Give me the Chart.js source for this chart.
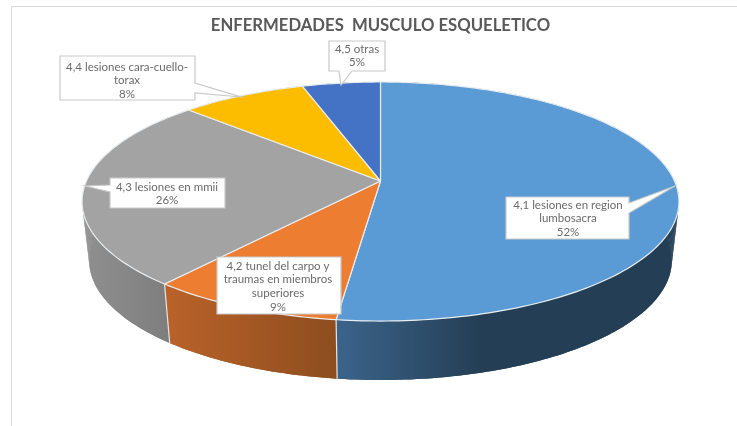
<!DOCTYPE html>
<html>
<head>
<meta charset="utf-8">
<title>Enfermedades musculo esqueletico</title>
<script src="https://cdn.jsdelivr.net/npm/chart.js@4"></script>
<style>
    html, body { margin: 0; padding: 0; background: #fff; overflow: hidden; }
    #grafico { display: block; }
</style>
</head>
<body>
<canvas id="grafico" width="737" height="426"></canvas>
<script>
const titulo = "ENFERMEDADES  MUSCULO ESQUELETICO";
const categorias = [
    "4,1 lesiones en region lumbosacra",
    "4,2 tunel del carpo y traumas en miembros superiores",
    "4,3 lesiones en mmii",
    "4,4 lesiones cara-cuello-torax",
    "4,5 otras"
];
const valores = [52, 9, 26, 8, 5];
const lineasEtiqueta = [
    ["4,1 lesiones en region", "lumbosacra"],
    ["4,2 tunel del carpo y", "traumas en miembros", "superiores"],
    ["4,3 lesiones en mmii"],
    ["4,4 lesiones cara-cuello-", "torax"],
    ["4,5 otras"]
];
const colores = ["#5b9bd5", "#ed7d31", "#a3a3a3", "#fcbd00", "#4472c4"];

// lateral del pastel, degradado de izquierda a derecha
const ladoInicio = ["#3b6389", "#ba622a", "#8f8f8f", "#997300", "#2f5597"];
const ladoFin = ["#243f55", "#8c4d1e", "#7e7e7e", "#997300", "#2f5597"];

// proyeccion en perspectiva del disco: borde superior y borde inferior
const tapa = { a: 294, b: 116, k: 0.1716, cy: 181 };
const base = { a: 287, b: 116, k: 0.1716, cy: 240 };

// cuadros de las etiquetas: x, y, ancho, alto, punta del globo y centro del texto
const globos = [
    { x: 506, y: 197, w: 123, h: 42, base: [[629, 203], [629, 213]], punta: [675, 186], tx: 568, ty: 205 },
    { x: 217, y: 257, w: 124, h: 57, base: null, punta: null, tx: 278, ty: 266 },
    { x: 110, y: 178, w: 115, h: 30, base: [[110, 185], [110, 192]], punta: [85, 186], tx: 167, ty: 187 },
    { x: 60, y: 56, w: 135, h: 44, base: [[195, 83], [195, 93]], punta: [241, 97], tx: 127, ty: 67 },
    { x: 329, y: 41, w: 56, h: 30, base: [[339, 71], [352, 71]], punta: [341, 85], tx: 357, ty: 49 }
];
const altoLinea = 13.6;

function proyectar(p, cx, ang) {
    const u = Math.cos(ang);
    const v = -Math.sin(ang);
    const w = 1 + p.k * v;
    return [cx + p.a * u / w, p.cy - p.b * v / w];
}

function trazarPoligono(ctx, puntos) {
    ctx.beginPath();
    puntos.forEach(function (pt, i) {
        if (i == 0) ctx.moveTo(pt[0], pt[1]);
        else ctx.lineTo(pt[0], pt[1]);
    });
    ctx.closePath();
}

const pastel3d = {
    id: "pastel3d",
    beforeDatasetsDraw(chart) {
        const ctx = chart.ctx;
        const arcos = chart.getDatasetMeta(0).data;
        const paso = Math.PI / 180;
        ctx.save();

        // primero el lateral
        arcos.forEach(function (arco, i) {
            const grad = ctx.createLinearGradient(
                i == 0 ? 340 : (i == 1 ? 168 : 85), 0,
                i == 0 ? 480 : (i == 1 ? 338 : 168), 0);
            grad.addColorStop(0, ladoInicio[i]);
            grad.addColorStop(1, ladoFin[i]);
            ctx.fillStyle = grad;
            ctx.strokeStyle = grad;
            ctx.lineWidth = 0.8;

            // el anillo completo evita las rayas entre tiras
            const arriba = [];
            const abajo = [];
            for (let t = arco.startAngle; t < arco.endAngle; t += paso) {
                arriba.push(proyectar(tapa, arco.x, t));
                abajo.unshift(proyectar(base, arco.x, t));
            }
            arriba.push(proyectar(tapa, arco.x, arco.endAngle));
            abajo.unshift(proyectar(base, arco.x, arco.endAngle));
            trazarPoligono(ctx, arriba.concat(abajo));
            ctx.fill();

            // las tiras cubren la silueta en los extremos
            for (let j = 0; j + 1 < arriba.length; j++) {
                const n = abajo.length - 1 - j;
                trazarPoligono(ctx, [arriba[j], arriba[j + 1], abajo[n - 1], abajo[n]]);
                ctx.fill();
            }
        });

        // lineas claras entre las caras del lateral
        ctx.strokeStyle = "#e6e6e6";
        ctx.lineWidth = 1.2;
        arcos.forEach(function (arco) {
            const a = proyectar(tapa, arco.x, arco.endAngle);
            const b = proyectar(base, arco.x, arco.endAngle);
            if (Math.sin(arco.endAngle) > 0) {
                ctx.beginPath();
                ctx.moveTo(a[0], a[1]);
                ctx.lineTo(b[0], b[1]);
                ctx.stroke();
            }
        });

        // cara superior
        arcos.forEach(function (arco, i) {
            const puntos = [[arco.x, tapa.cy]];
            for (let t = arco.startAngle; t < arco.endAngle; t += paso) {
                puntos.push(proyectar(tapa, arco.x, t));
            }
            puntos.push(proyectar(tapa, arco.x, arco.endAngle));
            trazarPoligono(ctx, puntos);
            ctx.fillStyle = colores[i];
            ctx.fill();
            ctx.strokeStyle = "#e9edf0";
            ctx.lineWidth = 1.2;
            ctx.lineJoin = "round";
            ctx.stroke();
        });

        ctx.restore();
        return false;
    },
    afterDraw(chart) {
        const ctx = chart.ctx;
        ctx.save();
        ctx.textAlign = "center";
        ctx.textBaseline = "middle";
        ctx.font = "11.5px Lato";
        globos.forEach(function (g, i) {
            const puntos = [[g.x, g.y], [g.x + g.w, g.y], [g.x + g.w, g.y + g.h], [g.x, g.y + g.h]];
            let contorno = puntos;
            if (g.punta) {
                // se inserta la punta en el lado donde cae su base
                const b = g.base;
                if (b[0][0] == g.x) {
                    contorno = [puntos[0], puntos[1], puntos[2], puntos[3], b[1], g.punta, b[0]];
                } else if (b[0][0] == g.x + g.w) {
                    contorno = [puntos[0], puntos[1], b[0], g.punta, b[1], puntos[2], puntos[3]];
                } else {
                    contorno = [puntos[0], puntos[1], puntos[2], b[1], g.punta, b[0], puntos[3]];
                }
            }
            trazarPoligono(ctx, contorno);
            ctx.fillStyle = "#ffffff";
            ctx.fill();
            ctx.strokeStyle = "#c9c9c9";
            ctx.lineWidth = 1.2;
            ctx.stroke();

            ctx.fillStyle = "#6b6b6b";
            const lineas = lineasEtiqueta[i].concat([valores[i] + "%"]);
            lineas.forEach(function (linea, j) {
                ctx.fillText(linea, g.tx, g.ty + j * altoLinea);
            });
        });
        ctx.restore();
    },
    beforeDraw(chart) {
        // marco gris del grafico original
        const ctx = chart.ctx;
        ctx.save();
        ctx.strokeStyle = "#d9d9d9";
        ctx.lineWidth = 1;
        ctx.beginPath();
        ctx.moveTo(11.5, 426);
        ctx.lineTo(11.5, 6.5);
        ctx.lineTo(737, 6.5);
        ctx.stroke();
        ctx.restore();
    }
};

var ctx = document.getElementById("grafico").getContext("2d");
var grafico = new Chart(ctx, {
    type: "pie",
    data: {
        labels: categorias,
        datasets: [{
            data: valores,
            backgroundColor: colores
        }]
    },
    options: {
        responsive: false,
        animation: false,
        layout: { padding: { left: 24 } },
        plugins: {
            legend: { display: false },
            tooltip: { enabled: false },
            title: {
                display: true,
                text: titulo,
                color: "#595959",
                font: { family: "Lato", size: 16.7, weight: "bold" },
                padding: { top: 16, bottom: 6 }
            }
        }
    },
    plugins: [pastel3d]
});
</script>
</body>
</html>
